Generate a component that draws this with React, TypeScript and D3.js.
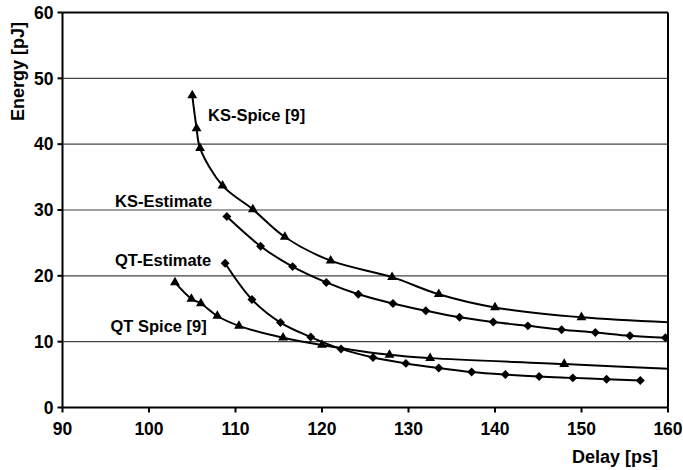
import React from "react";
import * as d3 from "d3";

const xTicks = [90, 100, 110, 120, 130, 140, 150, 160];
const yTicks = [0, 10, 20, 30, 40, 50, 60];

const ksSpiceX = [105.0, 105.5, 105.9, 108.5, 112.0, 115.7, 121.0, 128.1, 133.5, 140.0, 150.0, 163.0];
const ksSpiceY = [47.4, 42.4, 39.4, 33.7, 30.1, 25.9, 22.3, 19.8, 17.2, 15.2, 13.7, 12.8];
const ksEstX = [109.0, 112.9, 116.6, 120.5, 124.2, 128.2, 132.0, 135.9, 139.8, 143.8, 147.7, 151.6, 155.6, 159.7];
const ksEstY = [29.0, 24.5, 21.4, 19.0, 17.2, 15.8, 14.7, 13.7, 13.0, 12.4, 11.8, 11.4, 10.9, 10.6];
const qtEstX = [108.8, 111.9, 115.2, 118.7, 122.2, 125.9, 129.7, 133.5, 137.3, 141.2, 145.1, 149.0, 152.9, 156.8];
const qtEstY = [21.9, 16.4, 12.9, 10.7, 8.9, 7.6, 6.7, 6.0, 5.4, 5.0, 4.7, 4.5, 4.3, 4.1];
const qtSpiceX = [103.0, 104.9, 106.0, 107.9, 110.4, 115.5, 120.0, 127.8, 132.5, 148.0, 163.0];
const qtSpiceY = [19.0, 16.5, 15.8, 13.9, 12.4, 10.6, 9.5, 8.0, 7.5, 6.6, 5.7];

const seriesNames = ["KS-Spice [9]", "KS-Estimate", "QT-Estimate", "QT Spice [9]"];

const W = 683;
const H = 470;
const M = { left: 62.5, right: 668, top: 12.5, bottom: 407.5 };

export default function App() {
  const x = d3.scaleLinear().domain([90, 160]).range([M.left, M.right]);
  const y = d3.scaleLinear().domain([0, 60]).range([M.bottom, M.top]);

  const series = [
    { name: seriesNames[0], xs: ksSpiceX, ys: ksSpiceY, marker: "tri", lx: 208, ly: 115 },
    { name: seriesNames[1], xs: ksEstX, ys: ksEstY, marker: "dia", lx: 115, ly: 201 },
    { name: seriesNames[2], xs: qtEstX, ys: qtEstY, marker: "dia", lx: 115, ly: 260 },
    { name: seriesNames[3], xs: qtSpiceX, ys: qtSpiceY, marker: "tri", lx: 110.5, ly: 326 },
  ];

  const line = d3
    .line<[number, number]>()
    .x((d) => x(d[0]))
    .y((d) => y(d[1]))
    .curve(d3.curveCatmullRom.alpha(0.5));

  const tri = d3.symbol().type(d3.symbolTriangle).size(42)();
  const dia = d3.symbol().type(d3.symbolSquare).size(40)();

  const font = "'Liberation Sans', Arial, sans-serif";

  return (
    <svg width={W} height={H} style={{ display: "block", position: "absolute", left: 0, top: 0 }}>
      <defs>
        <clipPath id="plot">
          <rect x={M.left} y={M.top} width={M.right - M.left} height={M.bottom - M.top} />
        </clipPath>
      </defs>
      <rect x={0} y={0} width={W} height={H} fill="#fff" />
      {yTicks.slice(1, -1).map((t) => (
        <line key={t} x1={M.left} x2={M.right} y1={y(t)} y2={y(t)} stroke="#444" strokeWidth={1.2} />
      ))}
      <line x1={M.left} x2={M.right} y1={M.top} y2={M.top} stroke="#000" strokeWidth={2} />
      <line x1={M.right} x2={M.right} y1={M.top} y2={M.bottom} stroke="#000" strokeWidth={2} />
      <line x1={M.left} x2={M.left} y1={M.top} y2={M.bottom} stroke="#000" strokeWidth={2} />
      <line x1={M.left} x2={M.right} y1={M.bottom} y2={M.bottom} stroke="#000" strokeWidth={2} />
      {yTicks.map((t) => (
        <g key={"y" + t}>
          <line x1={M.left - 5} x2={M.left} y1={y(t)} y2={y(t)} stroke="#000" strokeWidth={2} />
          <text x={53.5} y={y(t)} dy="0.36em" textAnchor="end" fontFamily={font} fontWeight="bold" fontSize={17.5}>
            {t}
          </text>
        </g>
      ))}
      {xTicks.map((t) => (
        <g key={"x" + t}>
          <line x1={x(t)} x2={x(t)} y1={M.bottom} y2={M.bottom + 5} stroke="#000" strokeWidth={2} />
          <text x={x(t)} y={429} dy="0.36em" textAnchor="middle" fontFamily={font} fontWeight="bold" fontSize={17.5}>
            {t}
          </text>
        </g>
      ))}
      <text x={658} y={457} dy="0.36em" textAnchor="end" fontFamily={font} fontWeight="bold" fontSize={18}>
        Delay [ps]
      </text>
      <text
        transform={`translate(18,71.5) rotate(-90)`}
        dy="0.36em"
        textAnchor="middle"
        fontFamily={font}
        fontWeight="bold"
        fontSize={18}
      >
        Energy [pJ]
      </text>
      <g clipPath="url(#plot)">
        {series.map((s) => {
          const pts = s.xs.map((v, i) => [v, s.ys[i]] as [number, number]);
          return (
            <g key={s.name}>
              <path d={line(pts) || ""} fill="none" stroke="#000" strokeWidth={2} />
              {pts.map((p, i) => (
                <path
                  key={i}
                  d={(s.marker === "tri" ? tri : dia) || ""}
                  transform={`translate(${x(p[0])},${y(p[1])})${s.marker === "dia" ? " rotate(45)" : ""}`}
                  fill="#000"
                />
              ))}
            </g>
          );
        })}
      </g>
      {series.map((s) => (
        <text key={"l" + s.name} x={s.lx} y={s.ly} dy="0.36em" fontFamily={font} fontWeight="bold" fontSize={16.5}>
          {s.name}
        </text>
      ))}
    </svg>
  );
}
